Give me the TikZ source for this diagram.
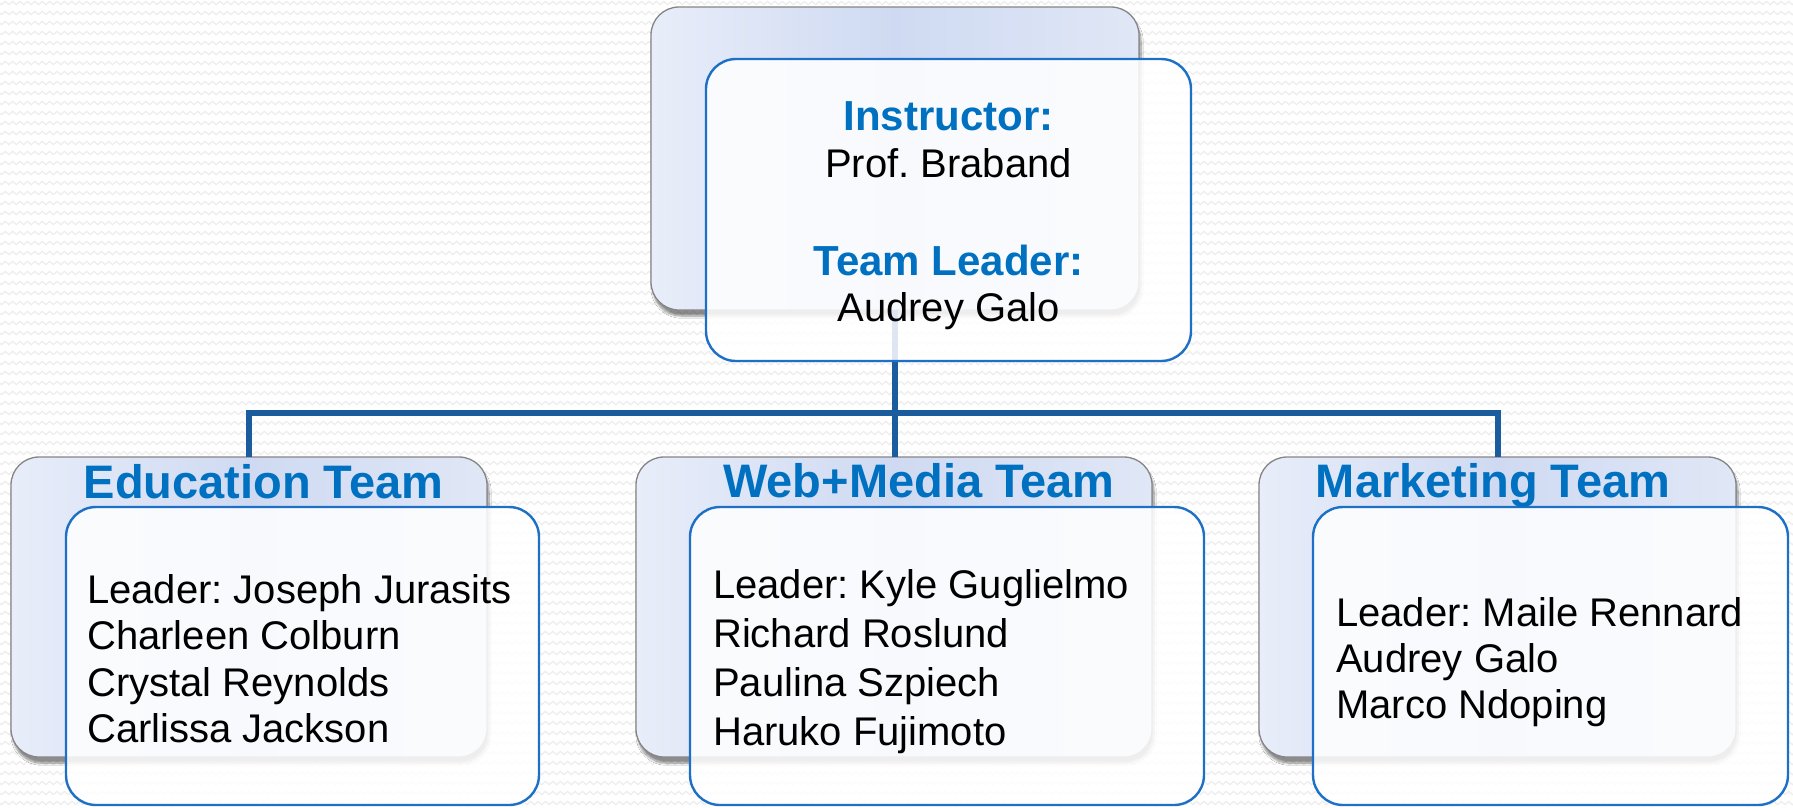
\documentclass[tikz,border=0pt]{standalone}
\usepackage{fontspec}
\setmainfont{Liberation Sans}
\frenchspacing
\usetikzlibrary{shadows.blur,decorations.pathmorphing}
\definecolor{titleblue}{HTML}{0070C0}
\definecolor{frontline}{HTML}{1E70C6}
\definecolor{connblue}{HTML}{1B5C9E}
\definecolor{backline}{HTML}{858585}
\definecolor{backL}{HTML}{E8EDF9}
\definecolor{backM}{HTML}{CFDAF2}
\definecolor{backR}{HTML}{E0E7F6}
\definecolor{zigcol}{HTML}{EDEDED}
\begin{document}
\begin{tikzpicture}[x=1pt,y=-1pt,
  backbox/.style={draw=backline, line width=1.3pt, rounded corners=28pt,
    left color=backL, right color=backR, middle color=backM,
    outer sep=0pt, inner sep=0pt, anchor=north west,
    blur shadow={shadow xshift=2pt, shadow yshift=-6pt, shadow opacity=45, shadow blur steps=8}},
  frontbox/.style={draw=frontline, line width=2.4pt, rounded corners=30pt,
    fill=white, fill opacity=0.86, outer sep=0pt, inner sep=0pt, anchor=north west},
  conn/.style={draw=connblue, line width=6pt},
  member/.style={font=\fontsize{40}{48}\selectfont, text=black, inner sep=0pt, anchor=base west},
  head/.style={font=\bfseries\fontsize{42}{50}\selectfont, text=titleblue, inner sep=0pt, anchor=base},
  plain/.style={font=\fontsize{40}{48}\selectfont, text=black, inner sep=0pt, anchor=base},
  teamtitle/.style={font=\bfseries\fontsize{47}{56}\selectfont, text=titleblue, inner sep=0pt, anchor=base},
  bgzig/.style={draw=zigcol, line width=1.2pt, decorate,
    decoration={zigzag, segment length=7.4pt, amplitude=1.6pt}}
]
\useasboundingbox (0,0) rectangle (1793,807);
\fill[white] (0,0) rectangle (1793,807);
\foreach \r in {0,...,81} {
  \draw[bgzig] (-4,\r*10+3) -- (1797,\r*10+3);
}

% top back box and its stem
\node[backbox, minimum width=488pt, minimum height=303pt] (tb) at (651,7) {};
\coordinate (bus) at (0,413);
\draw[conn] (tb.south) -- (tb.south |- bus);

% team back boxes
\node[backbox, minimum width=476pt, minimum height=300pt] (eb) at (11,457) {};
\node[backbox, minimum width=516pt, minimum height=300pt] (wb) at (636,457) {};
\node[backbox, minimum width=477pt, minimum height=300pt] (mb) at (1259,457) {};

% connectors
\draw[conn] (eb.north) |- (tb.south |- bus) -| (mb.north);
\draw[conn] (tb.south |- bus) -- (tb.south |- wb.north);

% front boxes
\node[frontbox, minimum width=485pt, minimum height=302pt] (tf) at (706,59) {};
\node[frontbox, minimum width=473pt, minimum height=298pt] (ef) at (66,507) {};
\node[frontbox, minimum width=514pt, minimum height=298pt] (wf) at (690,507) {};
\node[frontbox, minimum width=475pt, minimum height=298pt] (mf) at (1313,507) {};

% top texts
\node[head] (t1) at (948.5,130) {Instructor:};
\node[plain] (t2) at (948.5,177) {Prof. Braband};
\node[head] (t3) at (948.5,275) {Team Leader:};
\node[plain] (t4) at (948.5,321) {Audrey Galo};

% team titles
\node[teamtitle] (et) at (263.5,498) {Education Team};
\node[teamtitle] (wt) at (919,497) {Web+Media Team};
\node[teamtitle] (mt) at (1493,497) {Marketing Team};

% members
\node[member] (e1) at (87,603) {Leader: Joseph Jurasits};
\node[member] (e2) at (87,649.5) {Charleen Colburn};
\node[member] (e3) at (87,696) {Crystal Reynolds};
\node[member] (e4) at (87,742) {Carlissa Jackson};

\node[member] (w1) at (713,598) {Leader: Kyle Guglielmo};
\node[member] (w2) at (713,647) {Richard Roslund};
\node[member] (w3) at (713,696) {Paulina Szpiech};
\node[member] (w4) at (713,745) {Haruko Fujimoto};

\node[member] (m1) at (1336,626) {Leader: Maile Rennard};
\node[member] (m2) at (1336,672) {Audrey Galo};
\node[member] (m3) at (1336,718) {Marco Ndoping};
\end{tikzpicture}
\end{document}
